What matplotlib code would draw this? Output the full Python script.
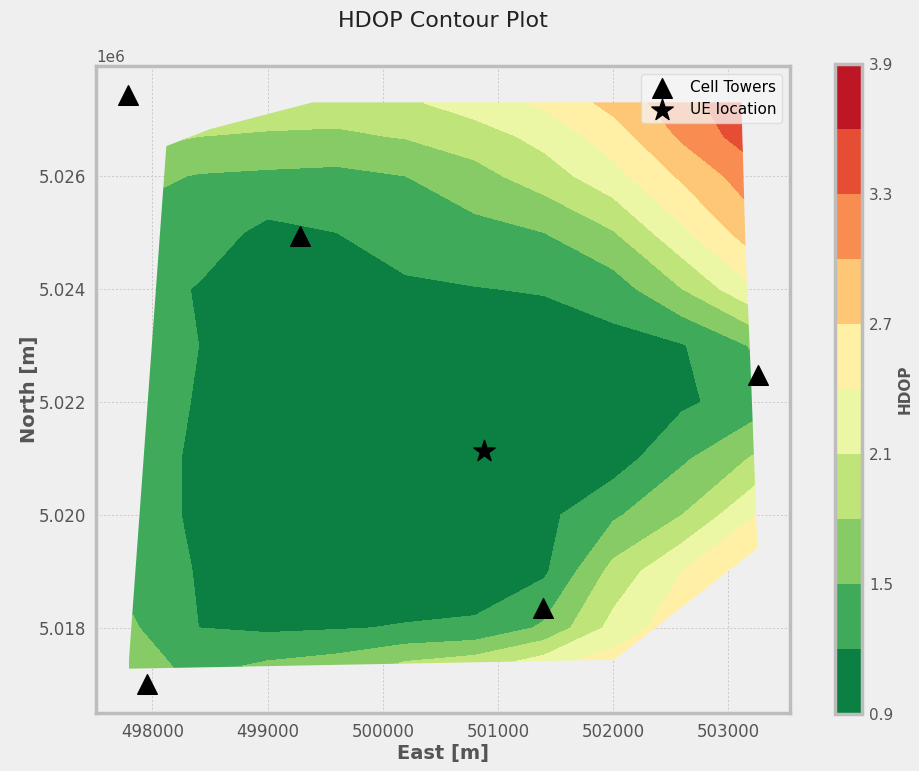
import numpy as np
import matplotlib
matplotlib.use("Agg")
import matplotlib.pyplot as plt
from matplotlib.patches import Polygon
from matplotlib.ticker import MultipleLocator

# HDOP sampled on a regular east/north grid [m]
east = [497800, 498400, 499000, 499600, 500200, 500800, 501400, 502000, 502600, 503250]
north = [5017250, 5018000, 5019000, 5020000, 5021000, 5022000,
         5023000, 5024000, 5025000, 5026000, 5026700, 5027300]

# rows go south -> north, columns west -> east
hdop = [
    [1.60, 1.45, 1.60, 1.70, 1.95, 2.10, 2.40, 2.60, 2.75, 3.00],
    [1.55, 1.20, 1.15, 1.18, 1.22, 1.25, 1.55, 2.20, 2.60, 2.90],
    [1.40, 1.18, 1.02, 1.00, 1.00, 1.02, 1.15, 1.90, 2.40, 2.70],
    [1.35, 1.15, 1.00, 1.00, 1.00, 1.00, 1.12, 1.45, 1.80, 2.40],
    [1.35, 1.15, 1.00, 0.98, 0.97, 0.98, 1.00, 1.05, 1.45, 1.85],
    [1.35, 1.18, 1.00, 0.98, 0.97, 0.98, 1.00, 1.05, 1.15, 1.35],
    [1.35, 1.20, 1.05, 1.00, 1.00, 1.00, 1.05, 1.10, 1.18, 1.55],
    [1.35, 1.18, 1.10, 1.12, 1.16, 1.19, 1.22, 1.35, 1.80, 2.40],
    [1.40, 1.35, 1.12, 1.20, 1.32, 1.40, 1.50, 1.78, 2.34, 2.90],
    [1.60, 1.48, 1.45, 1.42, 1.50, 1.70, 1.95, 2.30, 2.75, 3.20],
    [1.90, 1.80, 1.75, 1.75, 1.82, 1.95, 2.20, 2.55, 3.05, 3.50],
    [2.20, 2.10, 2.05, 1.95, 2.05, 2.25, 2.45, 2.80, 3.20, 3.55],
]

# outline of the evaluated area
area_e = [497790, 498120, 498500, 499390, 503113, 503148, 503200, 503252, 502009]
area_n = [5017277, 5026529, 5026830, 5027304, 5027304, 5024767, 5022229, 5019410, 5017436]

tower_e = [497783, 499278, 503261, 501391, 497948]
tower_n = [5027427, 5024943, 5022476, 5018352, 5017013]
ue_e = [500878]
ue_n = [5021137]

levels = np.arange(0.9, 3.91, 0.3)
cbar_ticks = [0.9, 1.5, 2.1, 2.7, 3.3, 3.9]

bg = '#efefef'
edge = '#bdbdbd'
txt = '#555555'

fig = plt.figure(figsize=(9.2, 7.71), dpi=100, facecolor=bg)
ax = fig.add_axes([0.1043, 0.0752, 0.7544, 0.8392])
ax.set_facecolor(bg)

E, N = np.meshgrid(east, north)
cs = ax.contourf(E, N, np.array(hdop), levels=levels, cmap='RdYlGn_r')
outline = Polygon(np.column_stack([area_e, area_n]), closed=True,
                  transform=ax.transData, facecolor='none', edgecolor='none')
cs.set_clip_path(outline)

ax.scatter(tower_e, tower_n, marker='^', s=200, c='k', label='Cell Towers', zorder=3)
ax.scatter(ue_e, ue_n, marker='*', s=260, c='k', label='UE location', zorder=3)

ax.xaxis.set_major_locator(MultipleLocator(1000))
ax.yaxis.set_major_locator(MultipleLocator(2000))
ax.grid(True, color='#c8c8c8', linestyle=(0, (2, 2)), linewidth=0.7)
ax.set_axisbelow(True)
for sp in ax.spines.values():
    sp.set_color(edge)
    sp.set_linewidth(2.5)
ax.tick_params(length=0, pad=7, labelsize=12, labelcolor=txt)
ax.yaxis.get_offset_text().set_color(txt)
ax.yaxis.get_offset_text().set_fontsize(11)

ax.set_xlabel('East [m]', fontsize=14, fontweight='bold', color=txt, labelpad=2)
ax.set_ylabel('North [m]', fontsize=14, fontweight='bold', color=txt, labelpad=0)
ax.set_title('HDOP Contour Plot', fontsize=16, color='#222222', pad=28)

leg = ax.legend(loc='upper right', fontsize=11, framealpha=0.75,
                facecolor='#f7f7f7', edgecolor='#d6d6d6')

cax = fig.add_axes([0.9076, 0.074, 0.0293, 0.843])
cb = fig.colorbar(cs, cax=cax, ticks=cbar_ticks)
cb.outline.set_edgecolor(edge)
cb.outline.set_linewidth(2.5)
cb.ax.tick_params(length=0, pad=5, labelsize=11, labelcolor=txt)
cb.set_label('HDOP', fontsize=11, fontweight='bold', color=txt, labelpad=3)

fig.savefig('out.png', dpi=100, facecolor=bg)
